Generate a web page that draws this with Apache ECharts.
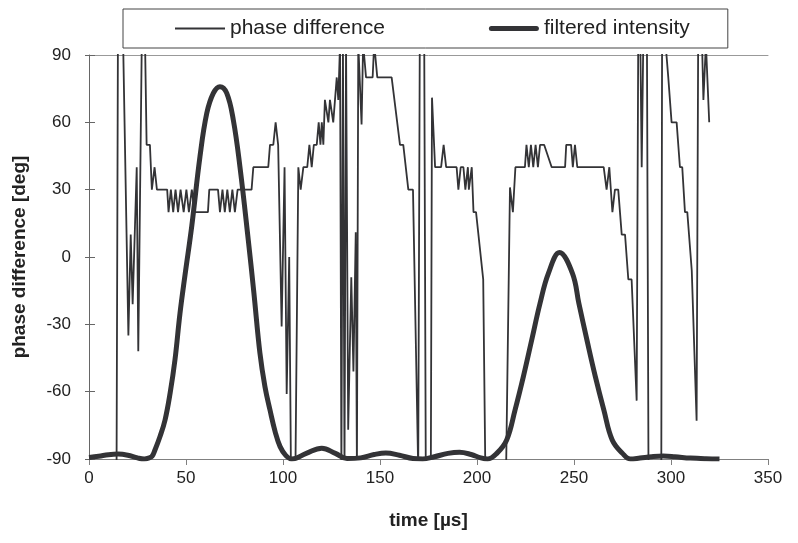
<!DOCTYPE html>
<html>
<head>
<meta charset="utf-8">
<script src="https://cdn.jsdelivr.net/npm/echarts@6/dist/echarts.min.js"></script>
<style>
  html, body { margin: 0; padding: 0; background: #fff; }
  #chart { width: 798px; height: 543px; }
</style>
</head>
<body>
<div id="chart"></div>
<script>
// axis ticks
const xTicks = [0, 50, 100, 150, 200, 250, 300, 350];
const yTicks = [-90, -60, -30, 0, 30, 60, 90];

// phase difference (values past +/-90 are clipped by the axis)
const phaseTime = [
  0, 14.2, 14.9, 17.6, 20.3, 21.5, 22.5, 24.6, 25.4, 27.2, 28.9, 29.7, 31.4, 32.4, 33.8, 35.0,
  40.3, 41.0, 42.2, 43.4, 44.6, 45.9, 47.2, 48.8, 50.2, 51.5, 53.0, 54.4, 61.3, 62.0,
  66.5, 67.5, 68.8, 70.0, 71.3, 72.6, 73.9, 75.2, 76.6, 83.8, 84.7, 92.4, 93.3, 95.0,
  96.2, 97.5, 99.3, 100.8, 101.9, 103.2, 104.1, 106.4, 107.9, 109.1, 110.5, 112.5,
  113.6, 114.8, 115.9, 117.4, 118.4, 119.3, 120.0, 120.8, 121.6, 123.4, 124.2, 125.9,
  126.8, 127.7, 128.5, 129.4, 130.1, 130.9, 131.7, 132.5, 133.6, 135.2, 136.3, 137.5,
  138.1, 138.8, 139.8, 140.5, 141.3, 142.2, 142.8, 146.2, 147.0, 147.8, 148.6, 156.0,
  160.3, 162.0, 164.6, 167.0, 169.7, 170.5, 172.8, 173.6, 176.2, 176.8, 178.4, 181.5,
  182.8, 184.1, 189.5, 190.4, 191.6, 193.0, 194.0, 195.3, 195.8, 197.3, 198.2, 199.5,
  203.2, 204.3, 215.0, 217.0, 218.5, 219.8, 224.7, 225.5, 226.7, 227.8, 229.0, 230.2,
  231.4, 232.5, 234.6, 238.5, 245.4, 246.0, 248.5, 249.4, 250.5, 251.7, 265.3, 266.8,
  268.2, 269.8, 271.1, 272.8, 274.6, 276.3, 278.0, 279.7, 282.3, 283.1, 284.2, 284.9,
  285.7, 287.6, 288.4, 295.0, 295.4, 297.2, 298.6, 300.3, 302.9, 304.6, 305.8, 307.2,
  308.4, 310.7, 313.2, 314.0, 316.0, 316.7, 318.0, 319.7
];
const phaseDeg = [
  -95, -95, 95, 95, -35, 10, -21, 40, -42, 95, 95, 50, 50, 30, 40, 30,
  30, 20, 30, 20, 30, 20, 30, 20, 30, 20, 30, 20, 20, 30,
  30, 20, 30, 20, 30, 20, 30, 20, 30, 30, 40, 40, 50, 50,
  60, 50, -31, 40, -61, 0, -95, -95, 40, 30, 40, 40,
  50, 40, 50, 50, 60, 50, 60, 50, 70, 60, 70, 60,
  70, 80, 70, 95, -95, 95, -95, 95, -77, -9, -51, 11,
  -95, 95, 95, 59, 95, 95, 80, 80, 95, 95, 80, 80,
  50, 50, 30, 30, -95, 95, 95, -95, -95, 71, 40, 40,
  50, 40, 40, 30, 40, 40, 30, 40, 30, 40, 20, 20,
  -10, -95, -95, 31, 20, 40, 40, 50, 40, 50, 40, 50,
  40, 50, 50, 40, 40, 50, 50, 40, 50, 40, 40, 30,
  40, 20, 30, 30, 10, 10, -10, -10, -64, 95, 95, 40,
  95, 95, -95, -95, 95, 95, 80, 60, 60, 40, 40, 20,
  20, -6, -73, 95, 95, 70, 95, 60
];

// filtered intensity
const intensTime = [
  0, 5, 10, 15, 20, 25, 28.5, 31, 32.5, 34, 36.6, 39.2, 41.8, 44.3, 46.9, 49.5, 53,
  57.2, 60.7, 64.1, 67.5, 71, 74.4, 77.8, 82.1, 85, 88.1, 90.7, 93.3, 96, 98.5, 101.5,
  104.5, 112, 120, 127, 133, 140, 147, 153, 160, 167, 172, 178, 185, 191, 197, 202,
  205.5, 210.2, 215.3, 219.6, 223.9, 228.2, 232.5, 236.8, 242.5, 249.2, 252.5, 256.8,
  261, 265.4, 269.7, 275, 279, 284, 290, 296, 302, 310, 318, 325
];
const intensVal = [
  -89.3, -88.8, -88.1, -87.8, -88.3, -89.5, -90, -89.5, -88.8, -86, -80, -72.6, -60.7, -45.9, -25.1, -8, 14,
  44.7, 64, 73, 75.9, 73, 61, 40.2, 7.6, -16, -42.8, -57.8, -68.2, -78, -84.5, -88.5,
  -90, -87.5, -85.2, -87.5, -89.8, -89.5, -88, -87.3, -88.3, -89.8, -90, -89, -87.5, -87, -88, -89.5,
  -90, -87.5, -81.5, -68.2, -53.3, -37, -20.6, -7.3, 2, -7.3, -20.6, -37.5,
  -53.3, -68.2, -81.5, -87.5, -90, -89.6, -89, -88.7, -89, -89.6, -89.9, -90
];

const FONT = "'Liberation Sans', Arial, sans-serif";
const INK = '#333336';

const phaseData = phaseTime.map((t, i) => [t, phaseDeg[i]]);
const intensData = intensTime.map((t, i) => [t, intensVal[i]]);

const chart = echarts.init(document.getElementById('chart'));

chart.setOption({
  animation: false,
  backgroundColor: '#fff',
  textStyle: { fontFamily: FONT },
  grid: { left: 89, right: 30, top: 55, bottom: 84 },
  legend: {
    left: 123,
    top: 9,
    padding: [9, 38, 9, 52],
    itemGap: 104,
    itemWidth: 50,
    itemHeight: 14,
    symbolKeepAspect: true,
    borderColor: '#444',
    borderWidth: 1,
    textStyle: { fontFamily: FONT, fontSize: 21, color: '#222' },
    data: [
      { name: 'phase difference', icon: 'path://M0,0H50V2H0Z' },
      { name: 'filtered intensity', icon: 'path://M2.5,0H47.5A2.5,2.5 0 0 1 47.5,5H2.5A2.5,2.5 0 0 1 2.5,0Z' }
    ]
  },
  xAxis: [
    {
      type: 'value',
      min: xTicks[0],
      max: xTicks[xTicks.length - 1],
      interval: 50,
      name: 'time [µs]',
      nameLocation: 'middle',
      nameGap: 52,
      nameTextStyle: { fontFamily: FONT, fontSize: 19, fontWeight: 'bold', color: '#222' },
      axisLine: { onZero: false, lineStyle: { color: '#808080', width: 1 } },
      axisTick: { length: 6, lineStyle: { color: '#808080' } },
      axisLabel: { fontSize: 17, color: '#222', margin: 11 },
      splitLine: { show: false }
    },
    {
      // plot-area top border
      type: 'value',
      position: 'top',
      min: 0,
      max: 350,
      axisLine: { show: true, onZero: false, lineStyle: { color: '#999', width: 1 } },
      axisTick: { show: false },
      axisLabel: { show: false },
      splitLine: { show: false }
    }
  ],
  yAxis: [
    {
      type: 'value',
      min: yTicks[0],
      max: yTicks[yTicks.length - 1],
      interval: 30,
      name: 'phase difference [deg]',
      nameLocation: 'middle',
      nameGap: 60,
      nameTextStyle: { fontFamily: FONT, fontSize: 19, fontWeight: 'bold', color: '#222' },
      axisLine: { show: true, onZero: false, lineStyle: { color: '#666', width: 1 } },
      axisTick: { show: true, length: 4, lineStyle: { color: '#666' } },
      axisLabel: { fontSize: 17, color: '#222', margin: 18 },
      splitLine: { show: false }
    },
    {
      // inner half of the crossing tick marks
      type: 'value',
      position: 'left',
      min: -90,
      max: 90,
      interval: 30,
      axisLine: { show: false, onZero: false },
      axisTick: { show: true, inside: true, length: 6, lineStyle: { color: '#666' } },
      axisLabel: { show: false },
      splitLine: { show: false }
    }
  ],
  series: [
    {
      name: 'phase difference',
      type: 'line',
      data: phaseData,
      symbol: 'none',
      clip: true,
      lineStyle: { color: INK, width: 1.8 },
      itemStyle: { color: INK }
    },
    {
      name: 'filtered intensity',
      type: 'line',
      data: intensData,
      symbol: 'none',
      smooth: 0.4,
      clip: true,
      lineStyle: { color: INK, width: 5 },
      itemStyle: { color: INK }
    }
  ]
});
</script>
</body>
</html>
